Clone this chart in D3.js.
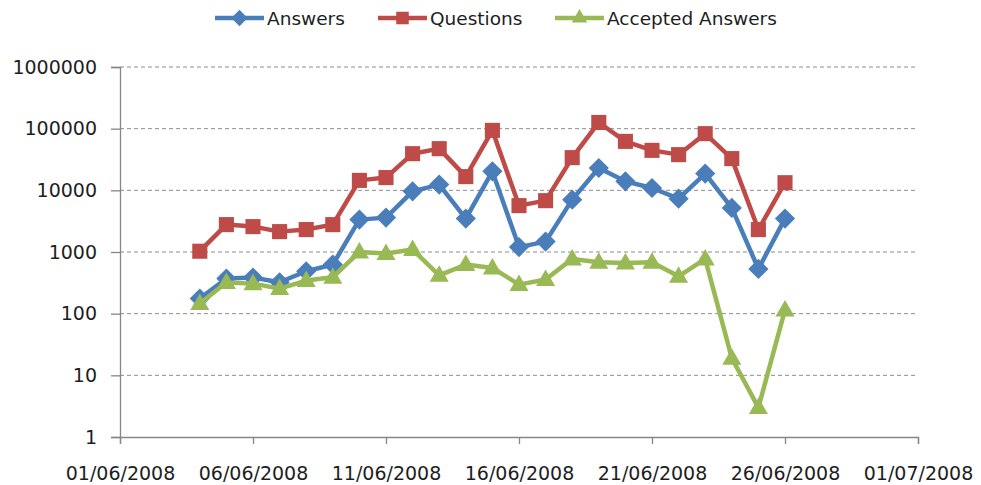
<!DOCTYPE html>
<html>
<head>
<meta charset="utf-8">
<script src="https://cdn.jsdelivr.net/npm/d3@7"></script>
<style>
  html, body { margin: 0; padding: 0; background: #fff; }
  svg { display: block; }
  text { font-family: "DejaVu Sans", "Liberation Sans", sans-serif; fill: #1e1e1e; }
</style>
</head>
<body>
<script>
// Daily activity, 04/06/2008 – 26/06/2008
const dates = [
  "04/06/2008","05/06/2008","06/06/2008","07/06/2008","08/06/2008","09/06/2008",
  "10/06/2008","11/06/2008","12/06/2008","13/06/2008","14/06/2008","15/06/2008",
  "16/06/2008","17/06/2008","18/06/2008","19/06/2008","20/06/2008","21/06/2008",
  "22/06/2008","23/06/2008","24/06/2008","25/06/2008","26/06/2008"
];
const answers = [176, 371, 385, 323, 487, 625, 3350, 3610, 9640, 12400, 3480, 20300,
  1200, 1475, 7060, 23000, 14000, 10900, 7330, 18700, 5190, 532, 3480];
const questions = [1030, 2780, 2580, 2140, 2310, 2780, 14500, 16100, 39300, 47400, 16700, 93800,
  5650, 6800, 33900, 126000, 62200, 44500, 37900, 83000, 32700, 2310, 13300];
const accepted = [146, 319, 307, 255, 344, 389, 1004, 943, 1094, 419, 625, 552,
  296, 357, 773, 680, 665, 680, 403, 773, 19, 3, 115];

const xTickLabels = ["01/06/2008","06/06/2008","11/06/2008","16/06/2008","21/06/2008","26/06/2008","01/07/2008"];
const yTickValues = [1, 10, 100, 1000, 10000, 100000, 1000000];

const seriesNames = ["Answers", "Questions", "Accepted Answers"];
const seriesColors = ["#4A7EBB", "#BE4B48", "#98B954"];
const seriesShapes = [d3.symbolDiamond2, d3.symbolSquare2, d3.symbolTriangle2];

const parseDate = d3.timeParse("%d/%m/%Y");
const W = 981, H = 485;
const margin = { left: 120, right: 63, top: 67, bottom: 48 };

const svg = d3.select("body").append("svg").attr("width", W).attr("height", H);

const x = d3.scaleTime()
  .domain([parseDate(xTickLabels[0]), parseDate(xTickLabels[xTickLabels.length - 1])])
  .range([margin.left, W - margin.right]);
const y = d3.scaleLog()
  .domain([1, 1000000])
  .range([H - margin.bottom, margin.top]);

// horizontal dashed gridlines
svg.append("g")
  .selectAll("line")
  .data(yTickValues.slice(1))
  .join("line")
  .attr("x1", margin.left).attr("x2", W - margin.right)
  .attr("y1", d => y(d)).attr("y2", d => y(d))
  .attr("stroke", "#8c8c8c").attr("stroke-width", 1)
  .attr("stroke-dasharray", "4,3");

// y axis
const yAxis = svg.append("g")
  .attr("transform", `translate(${margin.left},0)`)
  .call(d3.axisLeft(y).tickValues(yTickValues).tickFormat(d3.format("d")).tickSize(9).tickPadding(14));
yAxis.selectAll("text").style("font-size", "19px");

// x axis
const xAxis = svg.append("g")
  .attr("transform", `translate(0,${H - margin.bottom})`)
  .call(d3.axisBottom(x).tickValues(xTickLabels.map(parseDate)).tickFormat(d3.timeFormat("%d/%m/%Y")).tickSize(7).tickPadding(23));
xAxis.selectAll("text").style("font-size", "19px");

[yAxis, xAxis].forEach(a => {
  a.select(".domain").attr("stroke", "#868686").attr("stroke-width", 1.3);
  a.selectAll(".tick line").attr("stroke", "#868686").attr("stroke-width", 1.3);
});

// series lines with markers
const allSeries = [answers, questions, accepted];
const line = d3.line()
  .x(d => x(d.date))
  .y(d => y(d.value));

[0, 1, 2].forEach(i => {
  const pts = dates.map((dt, k) => ({ date: parseDate(dt), value: allSeries[i][k] }));
  const g = svg.append("g");
  g.append("path")
    .datum(pts)
    .attr("fill", "none")
    .attr("stroke", seriesColors[i])
    .attr("stroke-width", 4.5)
    .attr("stroke-linejoin", "round")
    .attr("d", line);
  const sym = d3.symbol().type(seriesShapes[i]).size(i === 1 ? 290 : 260);
  g.selectAll("path.m")
    .data(pts)
    .join("path")
    .attr("class", "m")
    .attr("transform", d => `translate(${x(d.date)},${y(d.value) + (i === 2 ? 1 : 0)})`)
    .attr("d", sym)
    .attr("fill", seriesColors[i]);
});

// legend
const legendX = [215, 378, 555];
const legend = svg.append("g").attr("transform", "translate(0,18)");
seriesNames.forEach((name, i) => {
  const g = legend.append("g").attr("transform", `translate(${legendX[i]},0)`);
  g.append("line").attr("x1", 0).attr("x2", 49).attr("y1", 0).attr("y2", 0)
    .attr("stroke", seriesColors[i]).attr("stroke-width", 4.5);
  g.append("path")
    .attr("transform", "translate(24.5,0)")
    .attr("d", d3.symbol().type(seriesShapes[i]).size(i === 1 ? 200 : 170))
    .attr("fill", seriesColors[i]);
  g.append("text").attr("x", 52).attr("y", 0).attr("dy", "0.36em")
    .style("font-size", "18.5px").text(name);
});
</script>
</body>
</html>
